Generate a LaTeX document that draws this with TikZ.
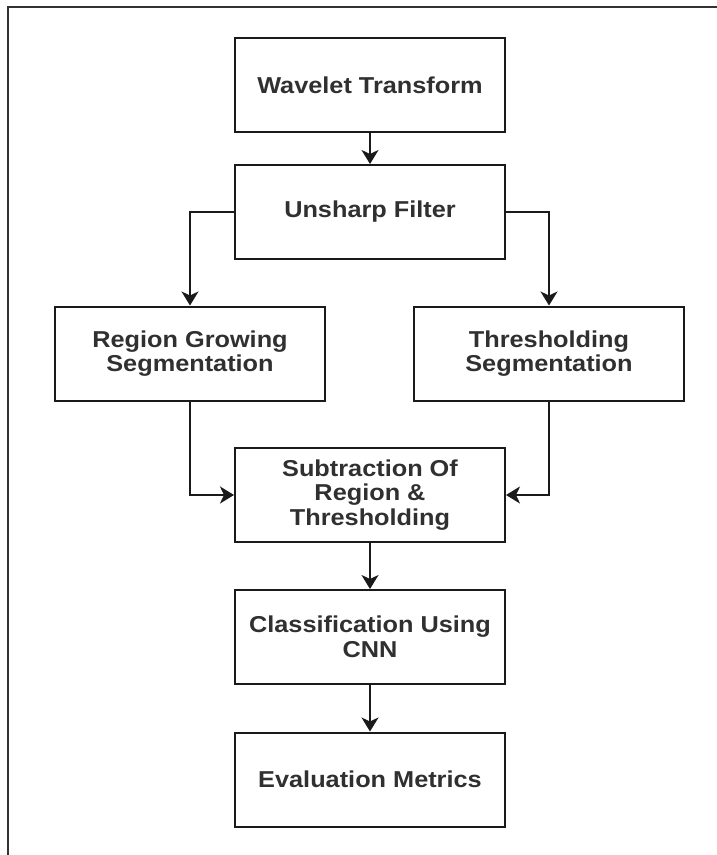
\documentclass[tikz,border=0pt]{standalone}
\usepackage{fontspec}
\newfontfamily\labfont[FakeStretch=1.1]{Liberation Sans}
\usetikzlibrary{arrows.meta}
\definecolor{txt}{HTML}{303030}
\definecolor{edge}{HTML}{1A1A1A}
\tikzset{
  stepbox/.style={draw=edge, line width=2pt, rectangle, minimum width=270pt, minimum height=94pt,
    inner sep=0pt, align=center, text=txt, font=\labfont\bfseries\fontsize{23}{24.5}\selectfont},
  conn/.style={draw=edge, line width=2pt, -{Stealth[length=14pt,width=17pt,inset=4pt]}},
}
\begin{document}
\begin{tikzpicture}[x=1pt,y=-1pt]
\useasboundingbox (0,0) rectangle (716,855);
\draw[line width=1.5pt, black!80] (8,856) -- (8,7) -- (717,7);
\node[stepbox] (wt) at (370,85) {Wavelet Transform};
\node[stepbox] (uf) at (370,212) {Unsharp Filter};
\node[stepbox] (rg) at (190,353.5) {Region Growing\\Segmentation};
\node[stepbox] (ts) at (549,353.5) {Thresholding\\Segmentation};
\node[stepbox] (sub) at (370,495) {Subtraction Of\\Region \&\\Thresholding};
\node[stepbox] (cls) at (370,637) {Classification Using\\CNN};
\node[stepbox] (ev) at (370,779.5) {Evaluation Metrics};
\draw[conn] (wt) -- (uf);
\draw[conn] (uf.west) -| (rg.north);
\draw[conn] (uf.east) -| (ts.north);
\draw[conn] (rg.south) |- (sub.west);
\draw[conn] (ts.south) |- (sub.east);
\draw[conn] (sub) -- (cls);
\draw[conn] (cls) -- (ev);
\end{tikzpicture}
\end{document}
